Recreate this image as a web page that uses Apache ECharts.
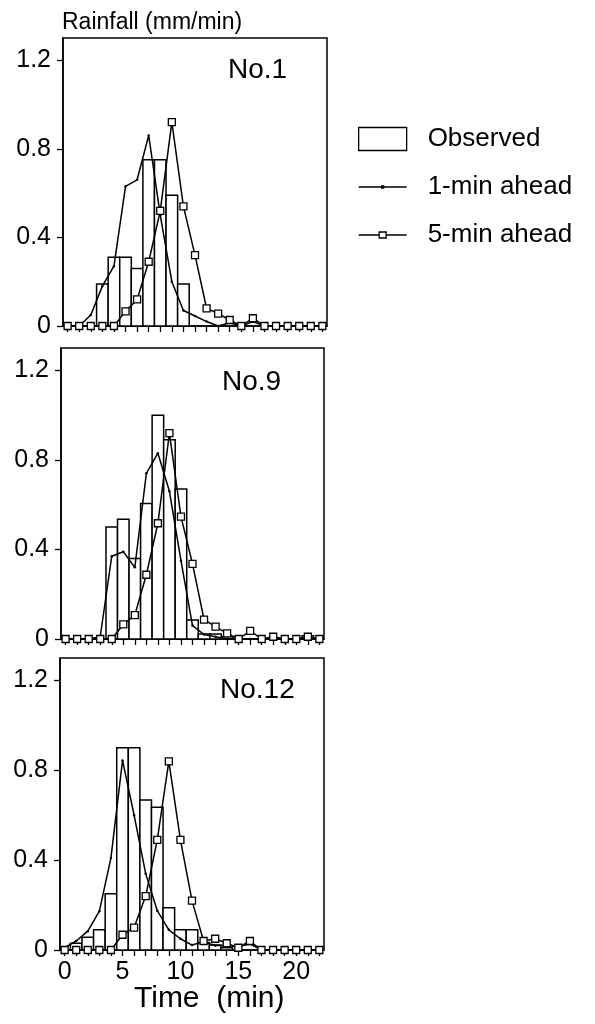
<!DOCTYPE html>
<html>
<head>
<meta charset="utf-8">
<title>Rainfall forecast</title>
<script src="https://cdn.jsdelivr.net/npm/echarts@6/dist/echarts.min.js"></script>
<style>
  html, body { margin: 0; padding: 0; background: #fff; }
  #chart { width: 595px; height: 1024px; }
</style>
</head>
<body>
<div id="chart"></div>
<script>
// time steps (min)
const minutes = [0, 1, 2, 3, 4, 5, 6, 7, 8, 9, 10, 11, 12, 13, 14, 15, 16, 17, 18, 19, 20, 21, 22]
const xTicks = minutes
const xLabels = [0, 5, 10, 15, 20]
const yTicks = [0, 0.4, 0.8, 1.2]
const panelNames = ['No.1', 'No.9', 'No.12']

// No.1
const observed1 = [0, 0, 0, 0.19, 0.31, 0.31, 0.26, 0.75, 0.75, 0.59, 0.19, 0, 0, 0, 0, 0, 0, 0, 0, 0, 0, 0, 0]
const ahead1min1 = [0, 0, 0.05, 0.18, 0.27, 0.63, 0.66, 0.86, 0.5, 0.2, 0.07, 0.045, 0.02, 0, 0.015, 0, 0.02, 0, 0, 0, 0, 0, 0]
const ahead5min1 = [0, 0, 0, 0, 0, 0.066, 0.12, 0.29, 0.52, 0.92, 0.54, 0.32, 0.08, 0.056, 0.027, 0, 0.035, 0, 0, 0, 0, 0, 0]

// No.9
const observed9 = [0, 0, 0, 0, 0.5, 0.535, 0.36, 0.605, 1.0, 0.89, 0.67, 0.085, 0.022, 0.022, 0.01, 0, 0, 0, 0, 0, 0, 0.015, 0]
const ahead1min9 = [0, 0, 0, 0.01, 0.37, 0.39, 0.32, 0.74, 0.83, 0.66, 0.35, 0.06, 0.02, 0.01, 0, 0, 0, 0, 0, 0, 0, 0, 0]
const ahead5min9 = [0, 0, 0, 0, 0, 0.065, 0.107, 0.287, 0.517, 0.92, 0.547, 0.336, 0.087, 0.055, 0.025, 0, 0.036, 0, 0.01, 0, 0, 0.01, 0]

// No.12
const observed12 = [0, 0.03, 0.057, 0.09, 0.25, 0.9, 0.9, 0.668, 0.636, 0.188, 0.09, 0.09, 0.033, 0.022, 0.01, 0, 0, 0, 0, 0, 0, 0, 0]
const ahead1min12 = [0.01, 0.04, 0.084, 0.173, 0.41, 0.844, 0.6, 0.34, 0.175, 0.09, 0.05, 0.022, 0.037, 0.02, 0.02, 0.015, 0.027, 0, 0, 0, 0, 0, 0]
const ahead5min12 = [0, 0, 0, 0, 0, 0.068, 0.1, 0.24, 0.49, 0.84, 0.49, 0.22, 0.04, 0.05, 0.03, 0.01, 0.04, 0, 0, 0, 0, 0, 0]

const observed = [observed1, observed9, observed12]
const ahead1min = [ahead1min1, ahead1min9, ahead1min12]
const ahead5min = [ahead5min1, ahead5min9, ahead5min12]

const font = 'Liberation Sans, Arial, sans-serif'
const grids = [
  { left: 63, top: 38, width: 264, height: 288 },
  { left: 61, top: 348, width: 263, height: 291 },
  { left: 60, top: 658, width: 264, height: 292 }
]
const titleTops = [56, 368, 676]
const titleLefts = [228, 222, 220]

function pairs(values) {
  return minutes.map((m, i) => [m, values[i]])
}

// bars one minute wide, centred on each minute
function renderBar(params, api) {
  const x = api.value(0)
  const y = api.value(1)
  if (!y) {
    return null
  }
  const p0 = api.coord([x - 0.5, y])
  const p1 = api.coord([x + 0.5, 0])
  return {
    type: 'rect',
    shape: { x: p0[0], y: p0[1], width: p1[0] - p0[0], height: p1[1] - p0[1] },
    style: { fill: '#fff', stroke: '#000', lineWidth: 1.5 }
  }
}

const xAxes = []
const yAxes = []
const series = []
const titles = [{
  text: 'Rainfall (mm/min)',
  left: 62,
  top: 11,
  padding: 0,
  textStyle: { fontFamily: font, fontSize: 23, fontWeight: 'normal', color: '#000' }
}]

grids.forEach((g, i) => {
  g.show = true
  g.borderColor = '#000'
  g.borderWidth = 1.5
  g.backgroundColor = 'transparent'

  xAxes.push({
    type: 'value',
    gridIndex: i,
    min: -0.4,
    max: 22.4,
    splitLine: { show: false },
    axisLine: { show: true, onZero: false, lineStyle: { color: '#000', width: 1.5 } },
    axisTick: { show: true, customValues: xTicks, length: 6, lineStyle: { color: '#000', width: 1.3 } },
    axisLabel: {
      show: i === 2,
      customValues: xLabels,
      fontFamily: font,
      fontSize: 25,
      color: '#000',
      margin: 10
    }
  })
  yAxes.push({
    type: 'value',
    gridIndex: i,
    min: 0,
    max: 1.3,
    splitLine: { show: false },
    axisLine: { show: true, onZero: false, lineStyle: { color: '#000', width: 1.5 } },
    axisTick: { show: true, customValues: yTicks, length: 6, lineStyle: { color: '#000', width: 1.3 } },
    axisLabel: {
      customValues: yTicks,
      formatter: v => (v === 0 ? '0' : v.toFixed(1)),
      fontFamily: font,
      fontSize: 25,
      color: '#000',
      margin: 12
    }
  })

  titles.push({
    text: panelNames[i],
    left: titleLefts[i],
    top: titleTops[i],
    padding: 0,
    textStyle: { fontFamily: font, fontSize: 28, fontWeight: 'normal', color: '#000' }
  })

  series.push({
    name: 'Observed',
    type: 'custom',
    xAxisIndex: i,
    yAxisIndex: i,
    z: 1,
    renderItem: renderBar,
    itemStyle: { color: '#fff', borderColor: '#000' },
    data: pairs(observed[i])
  })
  series.push({
    name: '1-min ahead',
    type: 'line',
    xAxisIndex: i,
    yAxisIndex: i,
    z: 3,
    symbol: 'circle',
    symbolSize: 2.5,
    itemStyle: { color: '#000' },
    lineStyle: { color: '#000', width: 1.5 },
    data: pairs(ahead1min[i])
  })
  series.push({
    name: '5-min ahead',
    type: 'line',
    xAxisIndex: i,
    yAxisIndex: i,
    z: 4,
    symbol: 'rect',
    symbolSize: 7,
    itemStyle: { color: '#fff', borderColor: '#000', borderWidth: 1.3 },
    lineStyle: { color: '#000', width: 1.5 },
    data: pairs(ahead5min[i])
  })
})

const chart = echarts.init(document.getElementById('chart'), null, { renderer: 'canvas' })
chart.setOption({
  animation: false,
  backgroundColor: '#fff',
  title: titles,
  grid: grids,
  xAxis: xAxes,
  yAxis: yAxes,
  legend: {
    orient: 'vertical',
    left: 358,
    top: 126,
    padding: 0,
    itemWidth: 48,
    itemHeight: 23,
    itemGap: 22,
    selectedMode: false,
    textStyle: { fontFamily: font, fontSize: 26, color: '#000', padding: [0, 0, 0, 16] },
    data: [
      { name: 'Observed', icon: 'rect', itemStyle: { color: '#fff', borderColor: '#000', borderWidth: 1.3 } },
      {
        name: '1-min ahead',
        icon: 'path://M0,0M48,23M0,11.5L48,11.5M23,10.5L25,10.5L25,12.5L23,12.5Z',
        itemStyle: { color: '#000', borderColor: '#000', borderWidth: 1.3 }
      },
      {
        name: '5-min ahead',
        icon: 'path://M0,0M48,23M0,11.5L20.5,11.5M27.5,11.5L48,11.5M20.5,8.5L27.5,8.5L27.5,14.5L20.5,14.5Z',
        itemStyle: { color: '#fff', borderColor: '#000', borderWidth: 1.3 }
      }
    ]
  },
  graphic: [{
    type: 'text',
    left: 134,
    top: 984,
    style: { text: 'Time  (min)', fontFamily: font, fontSize: 30, fill: '#000' }
  }],
  series: series
})
</script>
</body>
</html>
